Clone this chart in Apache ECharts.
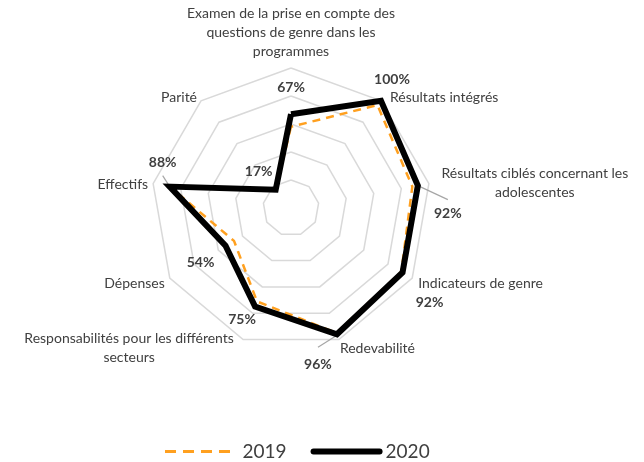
<!DOCTYPE html>
<html><head><meta charset="utf-8">
<script src="https://cdn.jsdelivr.net/npm/echarts@6/dist/echarts.min.js"></script>
<style>html,body{margin:0;padding:0;background:#fff}#c{width:644px;height:462px}</style>
</head><body><div id="c"></div>
<script>
// Categories in clockwise order starting at top
const categories = [
  'Examen de la prise en compte des\nquestions de genre dans les\nprogrammes',
  'Résultats intégrés',
  'Résultats ciblés concernant les\nadolescentes',
  'Indicateurs de genre',
  'Redevabilité',
  'Responsabilités pour les différents\nsecteurs',
  'Dépenses',
  'Effectifs',
  'Parité'
];
const values2019 = [58, 96, 88, 91, 95, 71, 47, 88, 17];
const values2020 = [67, 100, 92, 92, 96, 75, 54, 88, 17];
const seriesNames = ['2019', '2020'];

// layout (label offsets, not data)
const nameLayout = [
  {dx: 0, dy: -36, align: 'center'},
  {dx: 9, dy: -3, align: 'left'},
  {dx: 106, dy: -1, align: 'center'},
  {dx: 6, dy: 5, align: 'left'},
  {dx: 1, dy: 9, align: 'left'},
  {dx: -114, dy: 8, align: 'center'},
  {dx: -5, dy: 5, align: 'right'},
  {dx: -5, dy: 1, align: 'right'},
  {dx: -4, dy: -3, align: 'right'}
];
const labelLayout = [
  [0, -27], [11, -21], [30, 28], [27, 30], [-19, 30], [-13, 13], [-25, 17], [-7, -24], [-17, -18]
];
const leaderLayout = {2: [0, 0, 30, 14], 7: [0, 0, -7, -11], 4: [0, 1, -19, 13]};

const FONT = 'Lato, "Open Sans", sans-serif';
const TXT = '#404040';
const ORANGE = '#FFA01F';
const BLACK = '#000000';

// ECharts radar goes counter-clockwise: map clockwise order to library order
const n = categories.length;
const order = [0];
for (let i = n - 1; i >= 1; i--) order.push(i);
const libIndexOf = {};
order.forEach((ci, li) => { libIndexOf[ci] = li; });

const chart = echarts.init(document.getElementById('c'));
chart.setOption({
  animation: false,
  backgroundColor: '#fff',
  radar: {
    center: [291, 208],
    radius: 140,
    startAngle: 90,
    splitNumber: 5,
    shape: 'polygon',
    indicator: order.map(i => ({name: categories[i], min: 0, max: 100})),
    axisName: {show: false},
    splitLine: {lineStyle: {color: '#D9D9D9', width: 1.5}},
    splitArea: {show: false},
    axisLine: {show: false},
    axisTick: {show: false},
    axisLabel: {show: false}
  },
  legend: {
    top: 437,
    left: 160,
    itemWidth: 72,
    itemHeight: 6,
    itemGap: 24,
    symbolKeepAspect: true,
    textStyle: {fontFamily: FONT, fontSize: 19, color: TXT},
    data: [
      {name: seriesNames[0],
       icon: 'path://M0,0h0.01v6h-0.01z M0,1.5h11v3h-11z M18,1.5h11v3h-11z M36,1.5h11v3h-11z M54,1.5h11v3h-11z',
       itemStyle: {color: ORANGE, borderWidth: 0},
       textStyle: {padding: [0, 0, 0, 4]}},
      {name: seriesNames[1],
       icon: 'path://M3,0h66a3,3 0 0 1 0,6h-66a3,3 0 0 1 0,-6z',
       itemStyle: {color: BLACK, borderWidth: 0},
       textStyle: {padding: [0, 0, 0, -2]}}
    ]
  },
  series: [
    {
      type: 'radar', name: seriesNames[0], symbol: 'none', color: ORANGE, z: 2,
      lineStyle: {color: ORANGE, width: 2.5, type: [8, 6]},
      data: [{name: seriesNames[0], value: order.map(i => values2019[i])}]
    },
    {
      type: 'radar', name: seriesNames[1], symbol: 'none', color: BLACK, z: 3,
      lineStyle: {color: BLACK, width: 6, join: 'miter'},
      data: [{name: seriesNames[1], value: order.map(i => values2020[i])}]
    }
  ]
});

const radar = chart.getModel().getComponent('radar').coordinateSystem;
const graphics = [];
for (let ci = 0; ci < n; ci++) {
  const li = libIndexOf[ci];
  const outer = radar.dataToPoint(100, li);
  const nl = nameLayout[ci];
  graphics.push({
    type: 'text', z: 10,
    style: {
      text: categories[ci], x: outer[0] + nl.dx, y: outer[1] + nl.dy,
      align: nl.align, verticalAlign: 'middle', lineHeight: 19,
      font: '14px ' + FONT, fill: TXT
    }
  });
  const p = radar.dataToPoint(values2020[ci], li);
  const ll = labelLayout[ci];
  graphics.push({
    type: 'text', z: 10,
    style: {
      text: values2020[ci] + '%', x: p[0] + ll[0], y: p[1] + ll[1],
      align: 'center', verticalAlign: 'middle',
      font: 'bold 14px ' + FONT, fill: TXT
    }
  });
  if (leaderLayout[ci]) {
    const d = leaderLayout[ci];
    graphics.push({
      type: 'line', z: 1,
      shape: {x1: p[0] + d[0], y1: p[1] + d[1], x2: p[0] + d[2], y2: p[1] + d[3]},
      style: {stroke: '#A6A6A6', lineWidth: 1.2}
    });
  }
}
chart.setOption({graphic: graphics});
</script>
</body></html>
